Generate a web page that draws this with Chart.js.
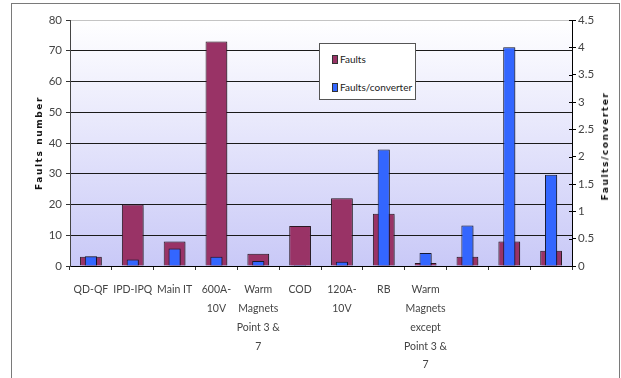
<!DOCTYPE html>
<html>
<head>
<meta charset="utf-8">
<script src="https://cdn.jsdelivr.net/npm/chart.js@4.4.1/dist/chart.umd.min.js"></script>
<style>
  html, body { margin: 0; padding: 0; background: #fff; }
  #wrap { position: relative; width: 621px; height: 378px; overflow: hidden; }
  #chart { position: absolute; left: 0; top: 0; }
  .ytitle {
    position: absolute; white-space: nowrap; color: #111;
    font: bold 9px "DejaVu Sans", "Liberation Sans", sans-serif; letter-spacing: 1.6px;
    transform: translate(-50%, -50%) rotate(-90deg);
  }
  #legend {
    position: absolute; left: 319px; top: 43px; width: 97px; height: 57px;
    box-sizing: border-box; border: 1px solid #555; background: #fff;
    font-family: Lato, "DejaVu Sans", sans-serif; font-size: 10px; color: #222;
  }
  #legend .item { position: absolute; left: 12px; height: 12px; line-height: 12px; white-space: nowrap; }
  #legend .sw { display: inline-block; width: 6px; height: 9px; box-sizing: border-box; border: 1px solid #333; vertical-align: -1px; margin-right: 2px; }
</style>
</head>
<body>
<div id="wrap">
  <canvas id="chart" width="621" height="378"></canvas>
  <div class="ytitle" style="left:39px; top:143px;">Faults number</div>
  <div class="ytitle" style="left:605px; top:146px;">Faults/converter</div>
  <div id="legend"></div>
</div>
<script>
// Categories along the x axis (multi-line labels are split by line)
const categories = [
  ["QD-QF"], ["IPD-IPQ"], ["Main IT"], ["600A-", "10V"],
  ["Warm", "Magnets", "Point 3 &", "7"], ["COD"], ["120A-", "10V"], ["RB"],
  ["Warm", "Magnets", "except", "Point 3 &", "7"], "", "", ""
];

// Number of faults per system (left axis)
const faults = [3, 20, 8, 73, 4, 13, 22, 17, 1, 3, 8, 5];

// Faults per converter (right axis)
const faultsPerConverter = [0.18, 0.12, 0.32, 0.17, 0.09, 0.02, 0.08, 2.13, 0.24, 0.74, 4.0, 1.67];

// Axis ranges and tick steps
const leftAxis = { min: 0, max: 80, step: 10 };
const rightAxis = { min: 0, max: 4.5, step: 0.5 };

const FONT = 'Lato, "DejaVu Sans", sans-serif';

// Plot background gradient, outer frame and inner ticks on the right axis
const decorations = {
  id: 'decorations',
  beforeDraw(chart) {
    const { ctx, chartArea: a } = chart;
    ctx.save();
    ctx.fillStyle = '#fff';
    ctx.fillRect(0, 0, chart.width, chart.height);
    const g = ctx.createLinearGradient(0, a.top, 0, a.bottom);
    g.addColorStop(0, '#ffffff');
    g.addColorStop(1, '#c9c9f7');
    ctx.fillStyle = g;
    ctx.fillRect(a.left, a.top, a.right - a.left, a.bottom - a.top);
    ctx.restore();
  },
  beforeDatasetsDraw(chart) {
    const ctx = chart.ctx;
    ctx.save();
    ctx.shadowColor = 'rgba(0,0,0,0.28)';
    ctx.shadowOffsetX = 2;
    ctx.shadowOffsetY = 1;
    ctx.shadowBlur = 2;
  },
  afterDatasetsDraw(chart) {
    chart.ctx.restore();
  },
  afterDraw(chart) {
    const { ctx, chartArea: a } = chart;
    const s = chart.scales.y2;
    ctx.save();
    ctx.strokeStyle = '#000';
    ctx.lineWidth = 1;
    ctx.beginPath();
    s.ticks.forEach((t) => {
      const y = Math.round(s.getPixelForValue(t.value)) + 0.5;
      ctx.moveTo(a.right - 3, y);
      ctx.lineTo(a.right, y);
    });
    ctx.stroke();
    ctx.strokeStyle = '#7a7a7a';
    ctx.strokeRect(11.5, 3.5, 608, 400);
    ctx.restore();
  }
};

// Legend box built from the dataset labels and colours
const htmlLegend = {
  id: 'htmlLegend',
  afterUpdate(chart) {
    const box = document.getElementById('legend');
    box.innerHTML = '';
    const tops = [9, 37];
    chart.data.datasets.forEach((ds, i) => {
      const el = document.createElement('div');
      el.className = 'item';
      el.style.top = tops[i] + 'px';
      const sw = document.createElement('span');
      sw.className = 'sw';
      sw.style.background = ds.backgroundColor;
      el.appendChild(sw);
      el.appendChild(document.createTextNode(ds.label));
      box.appendChild(el);
    });
  }
};

new Chart(document.getElementById('chart'), {
  type: 'bar',
  data: {
    labels: categories,
    datasets: [
      {
        label: 'Faults', data: faults, yAxisID: 'y',
        backgroundColor: '#993366', borderColor: '#2b1a24', borderWidth: 1,
        barPercentage: 0.52, categoryPercentage: 1, grouped: false, order: 1
      },
      {
        label: 'Faults/converter', data: faultsPerConverter, yAxisID: 'y2',
        backgroundColor: '#3366ff', borderColor: '#161a33', borderWidth: 1,
        barPercentage: 0.29, categoryPercentage: 1, grouped: false, order: 0
      }
    ]
  },
  options: {
    responsive: false, animation: false,
    layout: { padding: { top: 20, left: 0, right: 0, bottom: 0 } },
    plugins: { legend: { display: false }, title: { display: false }, tooltip: { enabled: false } },
    scales: {
      x: {
        offset: true,
        grid: { offset: true, drawOnChartArea: false, tickLength: 4, color: '#333' },
        border: { color: '#000', width: 1 },
        ticks: {
          autoSkip: false, maxRotation: 0, minRotation: 0, padding: 10, color: '#444',
          font: { family: FONT, size: 10.5, lineHeight: 1.8 }
        },
        afterFit(s) { s.height = 112; }
      },
      y: {
        position: 'left', min: leftAxis.min, max: leftAxis.max,
        grid: {
          color: (c) => (c.tick && c.tick.value === leftAxis.max ? '#c4c4c4' : '#1a1a1a'),
          tickColor: '#333', tickLength: 4
        },
        border: { color: '#444' },
        ticks: { stepSize: leftAxis.step, padding: 4, color: '#444', font: { family: FONT, size: 11.5 } },
        afterFit(s) { s.width = 70; }
      },
      y2: {
        position: 'right', min: rightAxis.min, max: rightAxis.max,
        grid: { drawOnChartArea: false, tickLength: 4, color: '#000' },
        border: { color: '#000' },
        ticks: {
          stepSize: rightAxis.step, padding: 2, color: '#444', font: { family: FONT, size: 11.5 },
          callback: (v) => String(v)
        },
        afterFit(s) { s.width = 49; }
      }
    }
  },
  plugins: [decorations, htmlLegend]
});
</script>
</body>
</html>
